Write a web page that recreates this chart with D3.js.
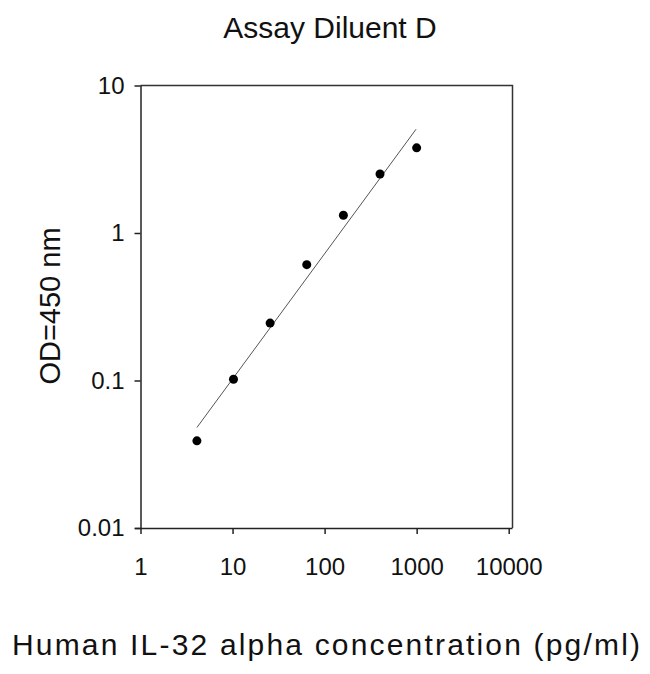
<!DOCTYPE html>
<html><head><meta charset="utf-8">
<script src="https://cdn.jsdelivr.net/npm/d3@7"></script>
<style>body{margin:0;background:#fff}text{font-family:"Liberation Sans",Arial,sans-serif;fill:#111}</style>
</head><body><svg id="view"></svg>
<script>
var conc = [4.1, 10.24, 25.6, 64, 160, 400, 1000];
var od = [0.039, 0.102, 0.245, 0.61, 1.32, 2.51, 3.78];
var fitX = [4.1, 985];
var fitY = [0.048, 5.05];
var xTicks = [1, 10, 100, 1000, 10000];
var yTicks = [0.01, 0.1, 1, 10];

var svg = d3.select("#view").attr("width", 650).attr("height", 674);
var x = d3.scaleLog().domain([1, 10000]).range([140.5, 508.7]);
var y = d3.scaleLog().domain([0.01, 10]).range([528, 85.5]);

// frame top/right
svg.append("path").attr("d", "M140.5,85.5H512.5V528").attr("fill", "none").attr("stroke", "#333").attr("stroke-width", 1.5);

var fmt = d => String(d);
var xa = svg.append("g").attr("transform", "translate(0,528)")
	.call(d3.axisBottom(x).tickValues(xTicks).tickFormat(fmt).tickSize(6).tickPadding(24));
xa.select(".domain").attr("d", "M135,0.5H512.5");
var ya = svg.append("g").attr("transform", "translate(140.5,0)")
	.call(d3.axisLeft(y).tickValues(yTicks).tickFormat(fmt).tickSize(6).tickPadding(10));
ya.select(".domain").attr("d", "M0.5,85.5V528");
svg.selectAll(".domain, .tick line").attr("stroke", "#222").attr("stroke-width", 1.5);
svg.selectAll(".tick text").attr("font-size", 24).attr("fill", "#111");

svg.append("line")
	.attr("x1", x(fitX[0])).attr("y1", y(fitY[0]))
	.attr("x2", x(fitX[1])).attr("y2", y(fitY[1]))
	.attr("stroke", "#555").attr("stroke-width", 1);

svg.append("g").selectAll("circle").data(conc).join("circle")
	.attr("cx", d => x(d)).attr("cy", (d, i) => y(od[i])).attr("r", 4.5).attr("fill", "#000");

svg.append("text").attr("x", 330).attr("y", 38).attr("text-anchor", "middle").attr("font-size", 30).text("Assay Diluent D");
svg.append("text").attr("transform", "translate(60,306) rotate(-90)").attr("text-anchor", "middle").attr("font-size", 29).text("OD=450 nm");
svg.append("text").attr("x", 326).attr("y", 655).attr("text-anchor", "middle").attr("font-size", 30).attr("textLength", 628).text("Human IL-32 alpha concentration (pg/ml)");
</script></body></html>
